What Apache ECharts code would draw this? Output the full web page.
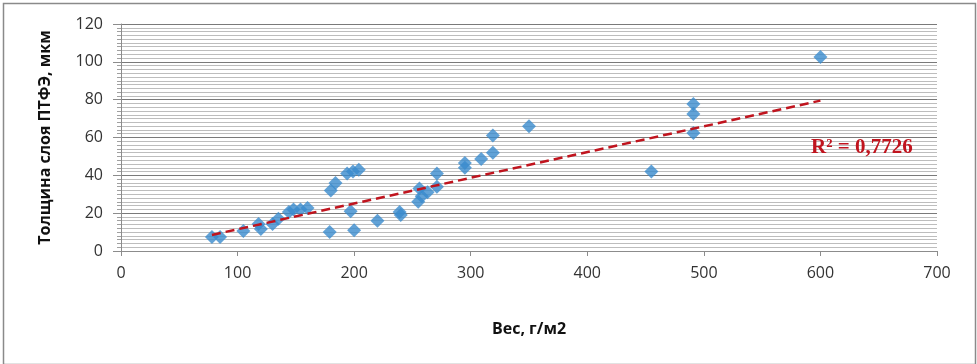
<!DOCTYPE html>
<html><head><meta charset="utf-8">
<script src="https://cdn.jsdelivr.net/npm/echarts@6/dist/echarts.min.js"></script>
<style>html,body{margin:0;padding:0;background:#fff}#c{width:977px;height:364px}</style>
</head><body><div id="c"></div>
<script>
// Data (x = Вес, г/м2 ; y = Толщина слоя ПТФЭ, мкм)
const weights = [78,85,105,118,120,130,135,144,148,154,160,180,184,194,199,204,179,197,200,220,239,240,255,256,258,263,271,271,295,295,309,319,319,350,455,491,491,491,600];
const thickness = [7.4,7.4,10.6,14.3,11.6,14.3,17,20.6,22,22,22.7,32,36,41,42,43,10,21,11,16,20.6,19,26,33,29,31,41,34,46.5,44,48.6,52,61,66,42,77.7,72.4,62.4,102.5];
const trendLine = [[78, 8.5], [600, 79.5]];
const r2Label = 'R² = 0,7726';
const xTicks = {min: 0, max: 700, interval: 100};
const yTicks = {min: 0, max: 120, interval: 20};

const points = weights.map((w, i) => [w, thickness[i]]);
const chart = echarts.init(document.getElementById('c'), null, {renderer: 'canvas'});
const font = 'Open Sans';
chart.setOption({
  animation: false,
  grid: {left: 121, right: 40, top: 24, bottom: 113},
  xAxis: {
    type: 'value', min: xTicks.min, max: xTicks.max, interval: xTicks.interval,
    name: 'Вес, г/м2', nameLocation: 'middle', nameGap: 70,
    nameTextStyle: {fontFamily: font, fontWeight: 'bold', fontSize: 16, color: '#111'},
    axisLine: {show: true, onZero: false, lineStyle: {color: '#8c8c8c', width: 1}},
    axisTick: {show: true, length: 5, inside: false, lineStyle: {color: '#8c8c8c'}},
    axisLabel: {fontFamily: font, fontSize: 16, color: '#333', margin: 14},
    splitLine: {show: false}
  },
  yAxis: {
    type: 'value', min: yTicks.min, max: yTicks.max, interval: yTicks.interval,
    name: 'Толщина слоя ПТФЭ, мкм', nameLocation: 'middle', nameGap: 68,
    nameTextStyle: {fontFamily: font, fontWeight: 'bold', fontSize: 16, color: '#111', padding: [0, 0, 0, 0]},
    axisLine: {show: true, lineStyle: {color: '#8c8c8c', width: 1}},
    axisTick: {show: true, length: 8, lineStyle: {color: '#8c8c8c'}},
    minorTick: {show: true, splitNumber: 10, length: 4, lineStyle: {color: '#a0a0a0'}},
    axisLabel: {fontFamily: font, fontSize: 16, color: '#333', margin: 18},
    splitLine: {show: true, lineStyle: {color: '#7a7a7a', width: 1}},
    minorSplitLine: {show: true, lineStyle: {color: '#bdbdbd', width: 1}}
  },
  series: [
    {
      type: 'scatter', data: points, symbol: 'diamond', symbolSize: 14,
      itemStyle: {color: '#3a8bcd'}, z: 3
    },
    {
      type: 'line', data: trendLine, symbol: 'none', z: 4,
      lineStyle: {color: '#c0141e', width: 2.5, type: [9, 5]}
    }
  ],
  graphic: [
    {type: 'rect', left: 1, top: 1, shape: {width: 972, height: 361},
     style: {fill: 'none', stroke: '#8a8a8a', lineWidth: 1.5}, silent: true},
    {type: 'text', left: 811, top: 137,
     style: {text: r2Label, font: 'bold 21px "Liberation Serif"', fill: '#c0141e'}, z: 10}
  ]
});
</script></body></html>
